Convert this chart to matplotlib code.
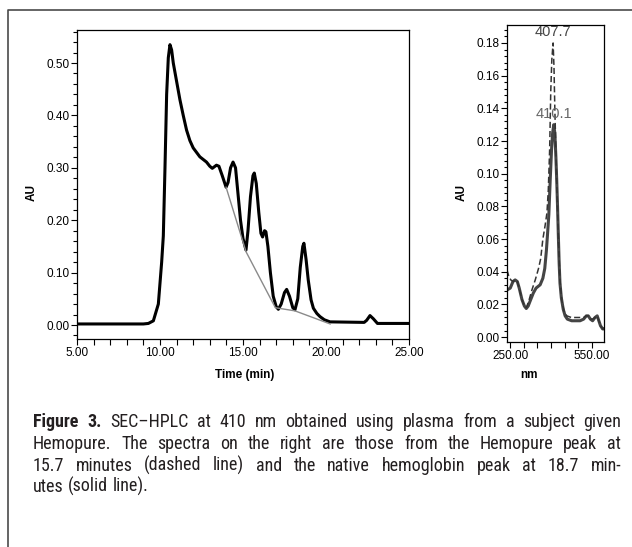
import numpy as np
import matplotlib
matplotlib.use('Agg')
import matplotlib.pyplot as plt
from matplotlib.lines import Line2D
from matplotlib.ticker import MultipleLocator, FixedLocator, FixedFormatter

# chromatogram at 410 nm (time in min, AU)
time_min = [5.0, 9.0, 9.3, 9.6, 9.9, 10.1, 10.2, 10.3, 10.4, 10.5, 10.6, 10.7, 10.8,
            11.0, 11.2, 11.4, 11.6, 11.8, 12.0, 12.4, 12.8, 13.0, 13.15, 13.4, 13.55,
            13.75, 13.98, 14.1, 14.25, 14.4, 14.55, 14.7, 14.85, 15.0, 15.18, 15.3,
            15.45, 15.6, 15.68, 15.8, 15.95, 16.08, 16.18, 16.3, 16.38, 16.5, 16.65,
            16.82, 17.0, 17.13, 17.3, 17.5, 17.63, 17.8, 18.0, 18.13, 18.3, 18.45,
            18.6, 18.67, 18.8, 18.93, 19.1, 19.24, 19.45, 19.64, 19.9, 20.24, 22.3,
            22.45, 22.65, 22.85, 23.1, 25.0]
au_410 = [0.002, 0.002, 0.003, 0.008, 0.04, 0.12, 0.17, 0.30, 0.44, 0.51, 0.535, 0.525,
          0.50, 0.465, 0.43, 0.40, 0.372, 0.352, 0.338, 0.321, 0.311, 0.303, 0.299,
          0.305, 0.303, 0.285, 0.263, 0.272, 0.300, 0.311, 0.300, 0.250, 0.200, 0.165,
          0.143, 0.180, 0.245, 0.285, 0.290, 0.270, 0.215, 0.175, 0.168, 0.180, 0.178,
          0.150, 0.100, 0.055, 0.035, 0.030, 0.040, 0.062, 0.068, 0.055, 0.033, 0.029,
          0.050, 0.110, 0.150, 0.156, 0.125, 0.086, 0.048, 0.032, 0.022, 0.016, 0.010,
          0.006, 0.005, 0.009, 0.018, 0.012, 0.003, 0.003]

# integration baseline
base_t = [13.98, 15.18, 16.95, 18.13, 20.25]
base_au = [0.263, 0.140, 0.033, 0.027, 0.002]

# spectrum of native hemoglobin peak (solid)
nm_solid = [240, 250, 260, 268, 276, 283, 293, 302, 309, 316, 323, 335, 345, 360, 370,
            377, 383, 388, 392, 397, 402, 406, 410, 414, 418, 421, 424, 427, 430, 433,
            438, 445, 452, 460, 476, 507, 520, 530, 537, 545, 553, 562, 570, 576, 582,
            590, 595]
au_solid = [0.029, 0.030, 0.034, 0.035, 0.034, 0.030, 0.023, 0.019, 0.0175, 0.019,
            0.022, 0.027, 0.030, 0.032, 0.036, 0.042, 0.053, 0.065, 0.075, 0.096, 0.115,
            0.125, 0.130, 0.125, 0.110, 0.096, 0.080, 0.062, 0.045, 0.033, 0.024, 0.017,
            0.013, 0.011, 0.010, 0.010, 0.011, 0.013, 0.013, 0.011, 0.010, 0.012, 0.013,
            0.010, 0.007, 0.005, 0.005]

# spectrum of Hemopure peak (dashed)
nm_dash = [238, 245, 252, 260, 268, 276, 283, 293, 302, 309, 318, 330, 342, 354, 362,
           370, 378, 385, 390, 395, 399, 403, 407.7, 411, 414, 417, 421, 427, 433, 440,
           448, 458, 475, 495, 510, 520, 530, 537, 545, 553, 562, 570, 576, 582, 590, 595]
au_dash = [0.041, 0.037, 0.035, 0.034, 0.035, 0.034, 0.030, 0.023, 0.019, 0.018, 0.022,
           0.029, 0.035, 0.042, 0.048, 0.060, 0.068, 0.076, 0.090, 0.115, 0.150, 0.170,
           0.180, 0.165, 0.140, 0.120, 0.095, 0.062, 0.035, 0.022, 0.016, 0.013, 0.012,
           0.012, 0.012, 0.012, 0.013, 0.013, 0.011, 0.011, 0.012, 0.013, 0.010, 0.007,
           0.005, 0.005]

caption_lines = [
    ['Figure', '3.', 'SEC\u2013HPLC', 'at', '410', 'nm', 'obtained', 'using', 'plasma',
     'from', 'a', 'subject', 'given'],
    ['Hemopure.', 'The', 'spectra', 'on', 'the', 'right', 'are', 'those', 'from', 'the',
     'Hemopure', 'peak', 'at'],
    ['15.7', 'minutes', '(dashed', 'line)', 'and', 'the', 'native', 'hemoglobin', 'peak',
     'at', '18.7', 'min-'],
    ['utes', '(solid', 'line).'],
]

W, H = 632, 547
plt.rcParams['font.family'] = ['Liberation Sans', 'DejaVu Sans']
fig = plt.figure(figsize=(W / 100, H / 100), dpi=100)


def px_box(left, top, right, bottom):
    return [left / W, 1 - bottom / H, (right - left) / W, (bottom - top) / H]


# outer frame (left and top edges)
fig.add_artist(Line2D([8 / W, 8 / W, 1.0], [0.0, 1 - 10 / H, 1 - 10 / H],
                      transform=fig.transFigure, color='#4a4a4a', lw=1.2))

# ---- chromatogram
ax1 = fig.add_axes(px_box(77, 30, 409, 339))
ax1.plot(time_min, au_410, color='black', lw=2.2, solid_joinstyle='round')
ax1.plot(base_t, base_au, color='#8a8a8a', lw=1.0)
ax1.set_xlim(5, 25)
ax1.set_ylim(-0.0267, 0.563)
ax1.xaxis.set_major_locator(MultipleLocator(5))
ax1.xaxis.set_minor_locator(MultipleLocator(1))
ax1.yaxis.set_major_locator(MultipleLocator(0.1))
ax1.yaxis.set_minor_locator(MultipleLocator(0.02))
ax1.xaxis.set_major_formatter(plt.FuncFormatter(lambda v, p: '%.2f' % v))
ax1.yaxis.set_major_formatter(plt.FuncFormatter(lambda v, p: '%.2f' % v))
ax1.tick_params(axis='both', which='major', length=4.5, width=0.8, labelsize=8.5, pad=1)
ax1.tick_params(axis='both', which='minor', length=3, width=0.8)
ax1.tick_params(axis='x', which='minor', length=4.5)
for s in ax1.spines.values():
    s.set_linewidth(0.9)
fig.text(245 / W, 1 - 375 / H, 'Time (min)', ha='center', va='center',
         fontsize=8.5, fontweight='bold')
fig.text(32 / W, 1 - 193 / H, 'AU', ha='center', va='center', rotation=90,
         fontsize=8.5, fontweight='bold')

# ---- spectra
ax2 = fig.add_axes(px_box(507, 25, 604, 342))
ax2.plot(nm_solid, au_solid, color='#454545', lw=2.2, solid_joinstyle='round')
ax2.plot(nm_dash, au_dash, color='#333333', lw=1.1, dashes=(4, 2))
ax2.set_xlim(238, 595)
ax2.set_ylim(-0.003, 0.191)
ax2.xaxis.set_major_locator(FixedLocator([250, 300, 350, 400, 450, 500, 550]))
ax2.xaxis.set_major_formatter(FixedFormatter(['250.00', '', '', '', '', '', '550.00']))
ax2.yaxis.set_major_locator(MultipleLocator(0.02))
ax2.yaxis.set_minor_locator(MultipleLocator(0.004))
ax2.yaxis.set_major_formatter(plt.FuncFormatter(lambda v, p: '%.2f' % v))
ax2.tick_params(axis='both', which='major', length=4.5, width=0.8, labelsize=8.5, pad=1)
ax2.tick_params(axis='y', which='minor', length=2.5, width=0.8)
for s in ax2.spines.values():
    s.set_linewidth(0.9)
ax2.text(407.7, 0.1825, '407.7', ha='center', va='bottom', fontsize=10.5, color='#444444')
ax2.text(410.1, 0.1365, '410.1', ha='center', va='center', fontsize=10.5, color='#666666')
fig.text(529 / W, 1 - 375 / H, 'nm', ha='center', va='center',
         fontsize=8.5, fontweight='bold')
fig.text(462 / W, 1 - 193 / H, 'AU', ha='center', va='center', rotation=90,
         fontsize=8.5, fontweight='bold')

# ---- caption, justified between x=33 and x=621
cap_font = ['Roboto Condensed', 'Roboto', 'DejaVu Sans']
cap_size = 13.0
cap_color = '#231f20'
baselines = [427, 449, 471, 492]
renderer = fig.canvas.get_renderer()
x_left, x_right = 33, 621
gap_em = 0.24

all_texts = []
for i, words in enumerate(caption_lines):
    texts = []
    for j, w in enumerate(words):
        bold = (i == 0 and j < 2)
        t = fig.text(0, 1 - baselines[i] / H, w, ha='left', va='baseline',
                     fontsize=cap_size, family=cap_font, color=cap_color,
                     fontweight='bold' if bold else 'normal')
        texts.append(t)
    all_texts.append(texts)

# shrink the font only if a line would not fit with normal word spacing
scale = 1.0
for texts in all_texts[:-1]:
    need = sum(t.get_window_extent(renderer=renderer).width for t in texts) \
        + gap_em * cap_size * 100 / 72 * (len(texts) - 1)
    scale = min(scale, (x_right - x_left) / need)
for texts in all_texts:
    for t in texts:
        t.set_fontsize(cap_size * scale)

for i, texts in enumerate(all_texts):
    widths = [t.get_window_extent(renderer=renderer).width for t in texts]
    if i < len(all_texts) - 1:
        gap = (x_right - x_left - sum(widths)) / (len(texts) - 1)
    else:
        gap = cap_size * scale * 100 / 72 * gap_em
    x = x_left
    for t, wd in zip(texts, widths):
        t.set_x(x / W)
        x += wd + gap

fig.savefig('out.png', dpi=100)
